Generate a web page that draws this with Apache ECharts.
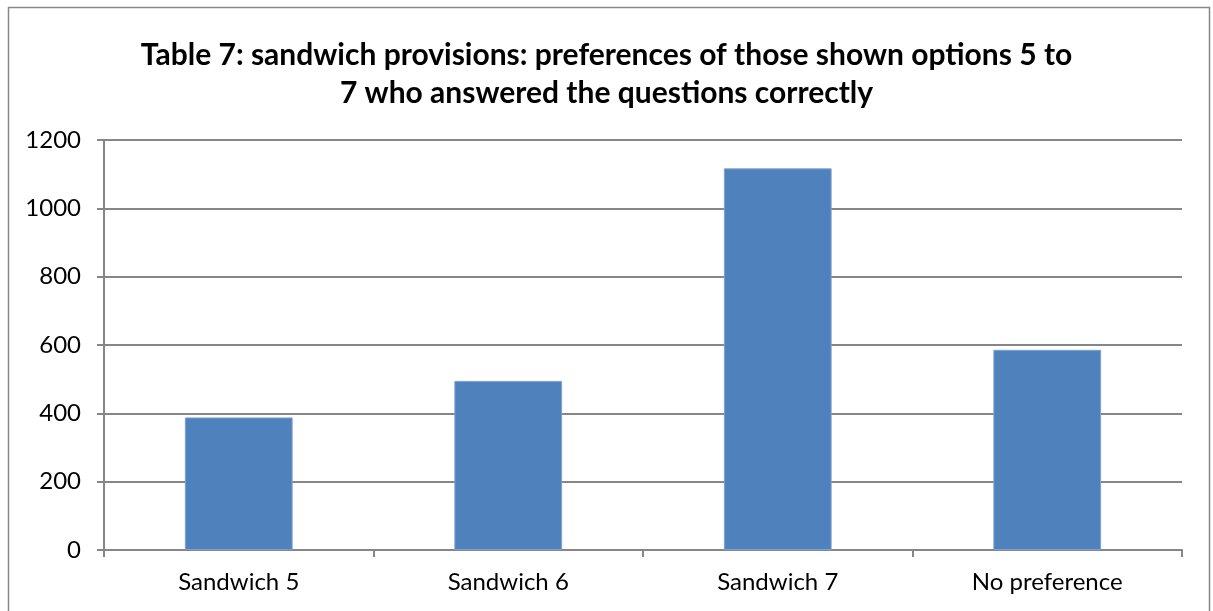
<!DOCTYPE html>
<html>
<head>
<meta charset="utf-8">
<script src="https://cdn.jsdelivr.net/npm/echarts@6/dist/echarts.min.js"></script>
<style>
  html, body { margin: 0; padding: 0; background: #fff; }
  #chart { width: 1213px; height: 611px; }
</style>
</head>
<body>
<div id="chart"></div>
<script>
// data
const categories = ['Sandwich 5', 'Sandwich 6', 'Sandwich 7', 'No preference']
const counts = [388, 495, 1117, 586]
const yTicks = [0, 200, 400, 600, 800, 1000, 1200]

const titleText = 'Table 7: sandwich provisions: preferences of those shown options 5 to\n7 who answered the questions correctly'

const chart = echarts.init(document.getElementById('chart'))

const option = {
    animation: false,
    backgroundColor: '#fff',
    // outer chart border
    graphic: [{
        type: 'rect',
        shape: { x: 8.5, y: 7.5, width: 1201, height: 620 },
        style: { fill: 'none', stroke: '#878787', lineWidth: 1.5 },
        silent: true
    }],
    title: {
        text: titleText,
        left: 'center',
        top: 31,
        textStyle: {
            fontFamily: 'Lato',
            fontWeight: 'bold',
            fontSize: 30,
            lineHeight: 38,
            color: '#000'
        }
    },
    grid: {
        left: 104,
        right: 31,
        top: 140,
        bottom: 61,
        containLabel: false
    },
    xAxis: {
        type: 'category',
        data: categories,
        axisLine: { lineStyle: { color: '#868686', width: 2 } },
        axisTick: { show: true, length: 7, lineStyle: { color: '#868686', width: 2 } },
        axisLabel: {
            fontFamily: 'Lato',
            fontSize: 24,
            color: '#000',
            margin: 20
        }
    },
    yAxis: {
        type: 'value',
        min: yTicks[0],
        max: yTicks[yTicks.length - 1],
        interval: 200,
        axisLine: { show: true, lineStyle: { color: '#868686', width: 2 } },
        axisTick: { show: true, length: 7, lineStyle: { color: '#868686', width: 2 } },
        splitLine: { lineStyle: { color: '#868686', width: 2 } },
        axisLabel: {
            fontFamily: 'Lato',
            fontSize: 24,
            color: '#000',
            margin: 23,
            formatter: v => String(v)
        }
    },
    series: [{
        type: 'bar',
        data: counts,
        barWidth: '40%',
        itemStyle: {
            color: '#4F81BD',
            borderColor: '#7FA3D1',
            borderWidth: 1
        }
    }]
}

chart.setOption(option)
</script>
</body>
</html>
